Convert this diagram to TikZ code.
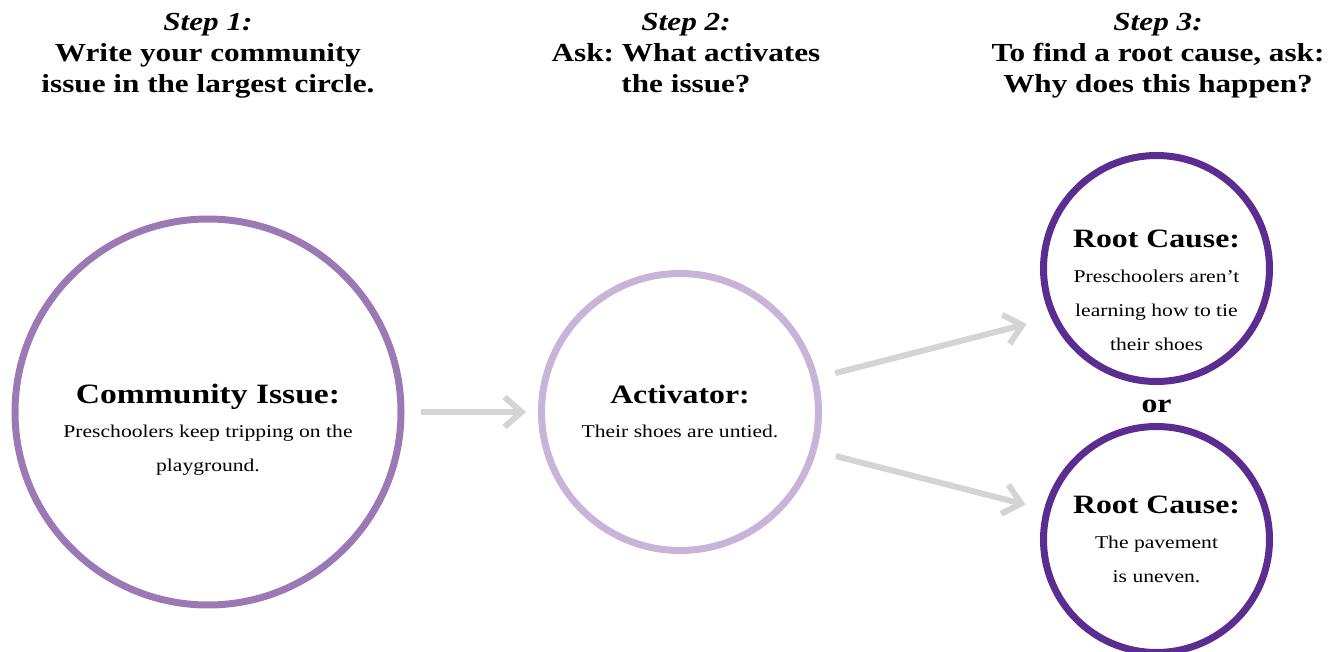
\documentclass[tikz,border=0pt]{standalone}
\usepackage{fontspec}
\setmainfont[FakeStretch=1.2]{Liberation Serif}
\usetikzlibrary{arrows.meta}
\definecolor{issuepurple}{HTML}{9B79B5}
\definecolor{activpurple}{HTML}{C8B4D8}
\definecolor{rootpurple}{HTML}{5C2D91}
\definecolor{arrowgray}{HTML}{D4D4D4}
\frenchspacing

\begin{document}
\begin{tikzpicture}[x=1pt, y=-1pt,
	ring/.style={circle, draw, line width=7pt, inner sep=0pt},
	flow/.style={draw=arrowgray, line width=6pt, -{Straight Barb[length=17pt,width=30pt]}},
	steptext/.style={align=center, anchor=north, inner sep=0pt, font=\fontsize{26}{31}\selectfont\bfseries},
	titletext/.style={anchor=base, inner sep=0pt, font=\fontsize{26.5}{30}\selectfont\bfseries},
	bodytext/.style={align=center, anchor=north, inner sep=0pt, font=\fontsize{18}{34}\selectfont}]
	\useasboundingbox (0,0) rectangle (1330,652);
	\node[steptext] (stepA) at (208,13) {\itshape Step 1:\\Write your community\\issue in the largest circle.};
	\node[steptext] (stepB) at (686,13) {\itshape Step 2:\\Ask: What activates\\the issue?};
	\node[steptext] (stepC) at (1158,13) {\itshape Step 3:\\To find a root cause, ask:\\Why does this happen?};
	\node[ring, draw=issuepurple, minimum size=386pt] (issue) at (208,412) {};
	\node[ring, draw=activpurple, minimum size=277pt] (activator) at (680,412) {};
	\node[ring, draw=rootpurple, minimum size=226pt] (rootA) at (1156.5,268.5) {};
	\node[ring, draw=rootpurple, minimum size=226pt] (rootB) at (1156.5,539.5) {};
	\node[titletext, font=\fontsize{28}{30}\selectfont\bfseries] (issuetitle) at (208,403) {Community Issue:};
	\node[bodytext] (issuebody) at (208,425) {Preschoolers keep tripping on the\\playground.};
	\node[titletext] (activtitle) at (680,403) {Activator:};
	\node[bodytext] (activbody) at (680,425) {Their shoes are untied.};
	\node[titletext] (roottitleA) at (1156.5,248) {Root Cause:};
	\node[bodytext] (rootbodyA) at (1156.5,270) {Preschoolers aren’t\\learning how to tie\\their shoes};
	\node[titletext] (orlabel) at (1156.5,412) {or};
	\node[titletext] (roottitleB) at (1156.5,513) {Root Cause:};
	\node[bodytext] (rootbodyB) at (1156.5,536) {The pavement\\is uneven.};
	\draw[flow, shorten <=16pt, shorten >=12pt] (issue) -- (activator);
	\draw[flow, shorten <=18pt, shorten >=25pt] (activator.14) -- (rootA.205);
	\draw[flow, shorten <=20pt, shorten >=19pt] (activator.-16) -- (rootB.165);
\end{tikzpicture}
\end{document}
